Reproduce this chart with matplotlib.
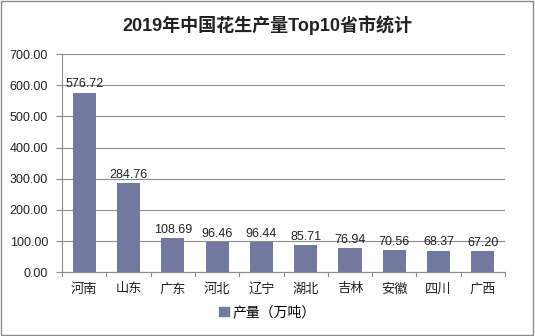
import matplotlib
matplotlib.use("Agg")
import matplotlib.pyplot as plt
from matplotlib.patches import Rectangle

plt.rcParams['font.family'] = ['Liberation Sans', 'Noto Sans CJK SC', 'DejaVu Sans']

provinces = ["河南", "山东", "广东", "河北", "辽宁", "湖北", "吉林", "安徽", "四川", "广西"]
output_wt = [576.72, 284.76, 108.69, 96.46, 96.44, 85.71, 76.94, 70.56, 68.37, 67.20]
yticks = [0, 100, 200, 300, 400, 500, 600, 700]

BAR = "#717A9E"
GRID = "#8C8C8C"

fig = plt.figure(figsize=(5.35, 3.36), dpi=100)
fig.patches.append(Rectangle((0.002, 0.003), 0.995, 0.993, transform=fig.transFigure,
                             fill=False, edgecolor="#8C8C8C", linewidth=1.0))
ax = fig.add_axes([0.116, 0.190, 0.828, 0.649])

x = range(len(provinces))
ax.bar(x, output_wt, width=0.52, color=BAR, zorder=3)
for i, v in zip(x, output_wt):
    ax.text(i, v + 8, f"{v:.2f}", ha="center", va="bottom", fontsize=9, color="#222222")

ax.set_xlim(-0.5, len(provinces) - 0.5)
ax.set_ylim(0, 700)
ax.set_yticks(yticks)
ax.set_yticklabels([f"{t:.2f}" for t in yticks], fontsize=9, color="#222222")
ax.yaxis.grid(True, color=GRID, linewidth=0.8, zorder=0)
ax.tick_params(axis="y", length=4, color=GRID, pad=6)

# category labels centred, tick marks between categories
ax.set_xticks(list(x))
ax.set_xticklabels(provinces, fontsize=9.5, color="#222222")
ax.tick_params(axis="x", length=0, pad=8)
for b in [i - 0.5 for i in range(len(provinces) + 1)]:
    ax.plot([b, b], [0, -0.018], transform=ax.get_xaxis_transform(), color=GRID,
            linewidth=0.8, clip_on=False)

for side in ["top", "right"]:
    ax.spines[side].set_visible(False)
ax.spines["left"].set_color(GRID)
ax.spines["bottom"].set_color(GRID)

fig.text(0.5, 0.925, "2019年中国花生产量Top10省市统计", ha="center", va="center",
         fontsize=13, fontweight="bold", color="#222222")

# legend
ax.legend([Rectangle((0, 0), 1, 1, color=BAR)], ["产量（万吨）"], loc="center",
          bbox_to_anchor=(0.5, 0.07), bbox_transform=fig.transFigure, frameon=False,
          fontsize=10, handlelength=0.7, handleheight=0.7, handletextpad=0.3)

fig.savefig("out.png", dpi=100)
